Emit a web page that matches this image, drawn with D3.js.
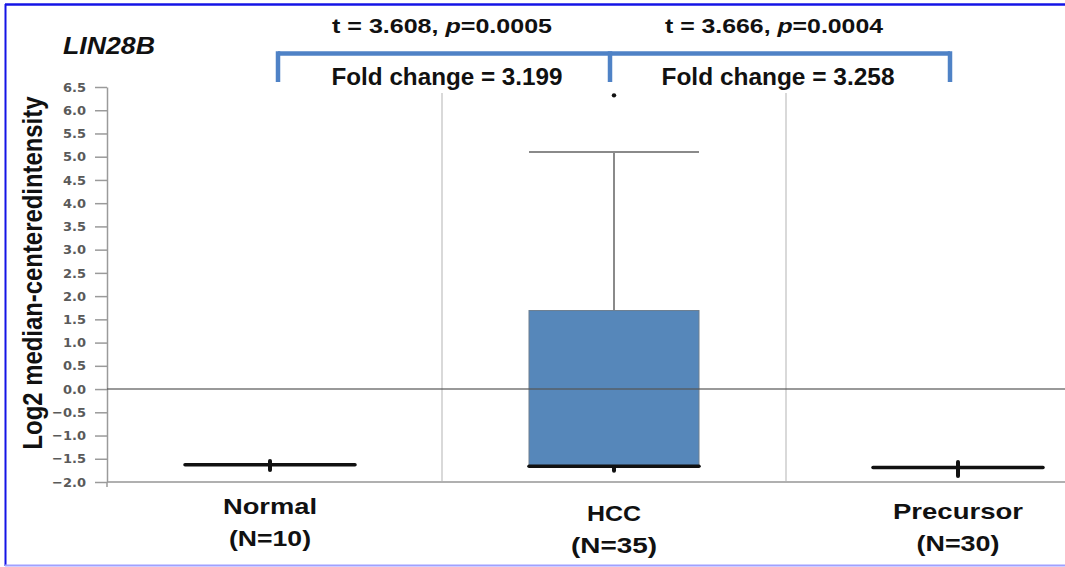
<!DOCTYPE html>
<html><head><meta charset="utf-8">
<script src="https://cdn.jsdelivr.net/npm/d3@7"></script>
<style>body{margin:0;background:#fff;overflow:hidden}</style>
</head><body><svg id="c" width="1065" height="567"></svg>
<script>
// ---- data ----
const categories = ["Normal", "HCC", "Precursor"];
const sampleSizes = [10, 35, 30];
const whiskerLow = [-1.74, -1.76, -1.87];
const q1 = [-1.64, -1.66, -1.70];
const medians = [-1.63, -1.66, -1.69];
const q3 = [-1.62, 1.69, -1.68];
const whiskerHigh = [-1.55, 5.10, -1.57];
const outliers = [[], [6.32], []];
const yTickValues = [-2.0, -1.5, -1.0, -0.5, 0.0, 0.5, 1.0, 1.5, 2.0, 2.5, 3.0, 3.5, 4.0, 4.5, 5.0, 5.5, 6.0, 6.5];
const comparisonPairs = [["Normal", "HCC"], ["HCC", "Precursor"]];
const tStats = ["3.608", "3.666"];
const pValues = ["0.0005", "0.0004"];
const foldChanges = ["3.199", "3.258"];
const geneName = "LIN28B";
const yTitle = "Log2 median-centeredintensity";

// ---- layout ----
const svg = d3.select("#c");
const W = 1065, H = 567;
const axisX = 107;
const y = d3.scaleLinear().domain([-2, 6.5]).range([482, 87]);
const x = d3.scalePoint().domain(categories).range([270, 958]);
const boxW = 170;
const font = "'Liberation Sans', Arial, sans-serif";

// borders
svg.append("line").attr("x1", 5).attr("x2", W).attr("y1", 4.5).attr("y2", 4.5).attr("stroke", "#1414e6").attr("stroke-width", 2.5);
svg.append("line").attr("x1", 5.5).attr("x2", 5.5).attr("y1", 4).attr("y2", 566).attr("stroke", "#1414e6").attr("stroke-width", 2);
svg.append("line").attr("x1", 5).attr("x2", W).attr("y1", 565.5).attr("y2", 565.5).attr("stroke", "#a0a0ff").attr("stroke-width", 2);

// vertical gridlines between categories
const mids = d3.pairs(categories).map(([a, b]) => (x(a) + x(b)) / 2);
svg.selectAll(".vg").data(mids).enter().append("line")
  .attr("x1", d => d).attr("x2", d => d).attr("y1", 93).attr("y2", y(-2))
  .attr("stroke", "#d9d9d9").attr("stroke-width", 2);

// x axis baseline
svg.append("line").attr("x1", axisX).attr("x2", W).attr("y1", y(-2)).attr("y2", y(-2))
  .attr("stroke", "#b0b0b0").attr("stroke-width", 2);

// y axis
const yAxis = svg.append("g").attr("transform", `translate(${axisX},0)`)
  .call(d3.axisLeft(y).tickValues(yTickValues).tickFormat(d3.format(".1f")).tickSize(12).tickSizeOuter(0).tickPadding(9));
yAxis.select(".domain").attr("stroke", "#9a9a9a").attr("stroke-width", 1.5);
yAxis.selectAll(".tick line").attr("stroke", "#9a9a9a").attr("stroke-width", 1.5);
yAxis.selectAll(".tick text").attr("fill", "#5a5a5a").attr("font-family", "'DejaVu Sans', Verdana, sans-serif")
  .attr("font-weight", "bold").attr("font-size", 13);
svg.append("line").attr("x1", axisX).attr("x2", axisX).attr("y1", y(-2)).attr("y2", y(-2) + 5)
  .attr("stroke", "#9a9a9a").attr("stroke-width", 1.5);

// boxes
const stats = categories.map((c, i) => ({c, lo: whiskerLow[i], q1: q1[i], med: medians[i], q3: q3[i], hi: whiskerHigh[i], out: outliers[i]}));
const g = svg.append("g");
stats.forEach(s => {
  const cx = x(s.c);
  const upLen = y(s.q3) - y(s.hi);
  const longUp = upLen > 20;
  g.append("line").attr("x1", cx).attr("x2", cx).attr("y1", y(s.q3)).attr("y2", y(s.hi))
    .attr("stroke", longUp ? "#8a8a8a" : "#111").attr("stroke-width", longUp ? 2 : 4).attr("stroke-linecap", longUp ? "butt" : "round");
  if (longUp) {
    g.append("line").attr("x1", cx - boxW / 2).attr("x2", cx + boxW / 2).attr("y1", y(s.hi)).attr("y2", y(s.hi))
      .attr("stroke", "#8a8a8a").attr("stroke-width", 2);
  }
  g.append("line").attr("x1", cx).attr("x2", cx).attr("y1", y(s.q1)).attr("y2", y(s.lo))
    .attr("stroke", "#111").attr("stroke-width", 4).attr("stroke-linecap", "round");
  if (y(s.q1) - y(s.q3) > 2) {
    g.append("rect").attr("x", cx - boxW / 2).attr("width", boxW)
      .attr("y", y(s.q3)).attr("height", y(s.q1) - y(s.q3))
      .attr("fill", "#5687ba").attr("stroke", "#6d7f90").attr("stroke-width", 1);
  }
  g.append("line").attr("x1", cx - boxW / 2).attr("x2", cx + boxW / 2).attr("y1", y(s.med)).attr("y2", y(s.med))
    .attr("stroke", "#111").attr("stroke-width", 3.5).attr("stroke-linecap", "round");
  s.out.forEach(o => g.append("circle").attr("cx", cx).attr("cy", y(o)).attr("r", 2.2).attr("fill", "#111"));
});

// zero line
svg.append("line").attr("x1", axisX).attr("x2", W).attr("y1", y(0)).attr("y2", y(0))
  .attr("stroke", "#555").attr("stroke-opacity", 0.8).attr("stroke-width", 1.5);

// gene name
svg.append("text").attr("x", 63).attr("y", 54).text(geneName)
  .attr("font-family", font).attr("font-weight", "bold").attr("font-style", "italic").attr("font-size", 24)
  .attr("textLength", 92).attr("lengthAdjust", "spacingAndGlyphs").attr("fill", "#111");

// y title
svg.append("text").attr("transform", "translate(42,273) rotate(-90)").attr("text-anchor", "middle")
  .text(yTitle).attr("font-family", font).attr("font-weight", "bold").attr("font-size", 28)
  .attr("textLength", 353).attr("lengthAdjust", "spacingAndGlyphs").attr("fill", "#111");

// category labels
const catLabelStyle = [
  {b1: 514, b2: 546, w1: 94, w2: 82},
  {b1: 521, b2: 553, w1: 54, w2: 86},
  {b1: 519, b2: 551, w1: 130, w2: 83}
];
categories.forEach((c, i) => {
  const st = catLabelStyle[i];
  svg.append("text").attr("x", x(c)).attr("y", st.b1).attr("text-anchor", "middle").text(c)
    .attr("font-family", font).attr("font-weight", "bold").attr("font-size", 22)
    .attr("textLength", st.w1).attr("lengthAdjust", "spacingAndGlyphs").attr("fill", "#111");
  svg.append("text").attr("x", x(c)).attr("y", st.b2).attr("text-anchor", "middle").text(`(N=${sampleSizes[i]})`)
    .attr("font-family", font).attr("font-weight", "bold").attr("font-size", 22)
    .attr("textLength", st.w2).attr("lengthAdjust", "spacingAndGlyphs").attr("fill", "#111");
});

// brackets
const legOffsets = [8, -4, -8];
const legX = categories.map((c, i) => x(c) + legOffsets[i]);
const bracketY = 53.5, legBottom = 82;
const bc = "#4f82c6";
svg.append("line").attr("x1", legX[0]).attr("x2", legX[2]).attr("y1", bracketY).attr("y2", bracketY)
  .attr("stroke", bc).attr("stroke-width", 4.5);
legX.forEach(lx => svg.append("line").attr("x1", lx).attr("x2", lx).attr("y1", bracketY - 2.25).attr("y2", legBottom)
  .attr("stroke", bc).attr("stroke-width", 4.5));

const statStyle = [{tw: 220, fw: 231, tdx: -2, fdx: 3}, {tw: 218, fw: 233, tdx: -6, fdx: -2}];
comparisonPairs.forEach(([a, b], i) => {
  const ia = categories.indexOf(a), ib = categories.indexOf(b);
  const mx = (legX[ia] + legX[ib]) / 2;
  const st = statStyle[i];
  const t = svg.append("text").attr("x", mx + st.tdx).attr("y", 33).attr("text-anchor", "middle")
    .attr("font-family", font).attr("font-weight", "bold").attr("font-size", 20).attr("fill", "#111")
    .attr("textLength", st.tw).attr("lengthAdjust", "spacingAndGlyphs");
  t.append("tspan").text(`t = ${tStats[i]}, `);
  t.append("tspan").attr("font-style", "italic").text("p");
  t.append("tspan").text(`=${pValues[i]}`);
  svg.append("text").attr("x", mx + st.fdx).attr("y", 85).attr("text-anchor", "middle")
    .attr("font-family", font).attr("font-weight", "bold").attr("font-size", 24).attr("fill", "#111")
    .attr("textLength", st.fw).attr("lengthAdjust", "spacingAndGlyphs")
    .text(`Fold change = ${foldChanges[i]}`);
});
</script></body></html>
